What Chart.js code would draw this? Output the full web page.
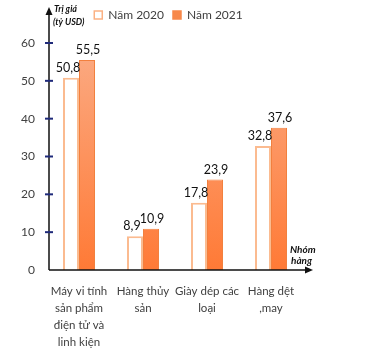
<!DOCTYPE html>
<html>
<head>
<meta charset="utf-8">
<script src="https://cdn.jsdelivr.net/npm/chart.js@4.4.0/dist/chart.umd.min.js"></script>
<style>
  html, body { margin: 0; padding: 0; background: #fff; }
  #wrap { width: 366px; height: 352px; }
</style>
</head>
<body>
<div id="wrap"><canvas id="myChart"></canvas></div>
<script>
const categories = [
  ["Máy vi tính", "sản phẩm", "điện tử và", "linh kiện"],
  ["Hàng thủy", "sản"],
  ["Giày dép các", "loại"],
  ["Hàng dệt", ",may"],
];
const seriesNames = ["Năm 2020", "Năm 2021"];
const values2020 = [50.8, 8.9, 17.8, 32.8];
const values2021 = [55.5, 10.9, 23.9, 37.6];
const yTicks = [0, 10, 20, 30, 40, 50, 60];

const ctx = document.getElementById("myChart");

// extra space under the legend
const legendGap = {
  id: "legendGap",
  beforeInit(chart) {
    const fit = chart.legend.fit;
    chart.legend.fit = function () {
      fit.bind(chart.legend)();
      this.height += 12;
    };
  },
};

// value labels above the bars
const valueLabels = {
  id: "valueLabels",
  afterDatasetsDraw(chart) {
    const c = chart.ctx;
    c.save();
    c.font = "12.5px Lato";
    c.fillStyle = "#111";
    c.textAlign = "center";
    c.textBaseline = "middle";
    chart.data.datasets.forEach((ds, i) => {
      chart.getDatasetMeta(i).data.forEach((bar, j) => {
        const txt = String(ds.data[j]).replace(".", ",");
        c.fillText(txt, bar.x + (i === 0 ? -3 : 1), bar.y - 10);
      });
    });
    c.restore();
  },
};

// axis lines with arrows, tick marks and axis titles
const axisArrows = {
  id: "axisArrows",
  afterDraw(chart) {
    const c = chart.ctx;
    const y = chart.scales.y;
    const area = chart.chartArea;
    const ax = 49;
    const bottom = area.bottom;
    c.save();
    c.strokeStyle = "#111";
    c.fillStyle = "#111";
    c.lineWidth = 1.5;
    c.beginPath();
    c.moveTo(ax, bottom);
    c.lineTo(ax, 12);
    c.moveTo(ax, bottom);
    c.lineTo(308, bottom);
    c.stroke();
    // arrow heads
    c.beginPath();
    c.moveTo(ax, 7);
    c.lineTo(ax - 3.5, 15);
    c.lineTo(ax + 3.5, 15);
    c.closePath();
    c.fill();
    c.beginPath();
    c.moveTo(313, bottom);
    c.lineTo(305, bottom - 3.5);
    c.lineTo(305, bottom + 3.5);
    c.closePath();
    c.fill();
    // tick marks
    c.strokeStyle = "#1f2a7a";
    c.lineWidth = 2;
    yTicks.forEach((v) => {
      if (v === 0) return;
      const py = y.getPixelForValue(v);
      c.beginPath();
      c.moveTo(ax - 4, py);
      c.lineTo(ax + 4, py);
      c.stroke();
    });
    // titles
    c.fillStyle = "#111";
    c.textAlign = "left";
    c.textBaseline = "middle";
    c.font = "italic bold 9px Lato";
    c.fillText("Trị giá", 54, 9);
    c.fillText("(tỷ USD)", 53, 22);
    c.font = "italic bold 10px Lato";
    c.fillText("Nhóm", 290, 250);
    c.fillText("hàng", 291, 261);
    c.restore();
  },
};

const orangeFill = (context) => {
  const { chart } = context;
  const { ctx, chartArea } = chart;
  if (!chartArea) return "#f98a4e";
  const g = ctx.createLinearGradient(0, chartArea.bottom, 0, chartArea.top);
  g.addColorStop(0, "#ff7a36");
  g.addColorStop(1, "#fbab84");
  return g;
};

const barChart = new Chart(ctx, {
  type: "bar",
  data: {
    labels: categories,
    datasets: [
      {
        label: seriesNames[0],
        data: values2020,
        backgroundColor: "#ffffff",
        borderColor: "#fbbb90",
        borderWidth: 2,
      },
      {
        label: seriesNames[1],
        data: values2021,
        backgroundColor: orangeFill,
        borderColor: "#f2803e",
        borderWidth: 1,
      },
    ],
  },
  options: {
    responsive: true,
    maintainAspectRatio: false,
    animation: false,
    devicePixelRatio: 1,
    categoryPercentage: 0.5,
    barPercentage: 1,
    layout: { padding: { left: 0, right: 29, top: 0, bottom: 0 } },
    plugins: {
      legend: {
        position: "top",
        labels: {
          boxWidth: 8,
          boxHeight: 8,
          padding: 9,
          color: "#404040",
          font: { family: "Lato", size: 12 },
          generateLabels: (chart) =>
            seriesNames.map((name, i) => ({
              text: name,
              fillStyle: i === 0 ? "#ffffff" : "#f7884a",
              strokeStyle: i === 0 ? "#fbb183" : "#f7884a",
              lineWidth: 1.5,
              fontColor: "#404040",
              datasetIndex: i,
            })),
        },
      },
      tooltip: { enabled: false },
    },
    scales: {
      x: {
        grid: { display: false },
        border: { display: false },
        ticks: {
          color: "#404040",
          font: { family: "Lato", size: 11.5, lineHeight: 1.48 },
          padding: 5,
          maxRotation: 0,
          autoSkip: false,
        },
        afterFit: (s) => { s.height = 82; },
      },
      y: {
        position: "left",
        min: 0,
        max: 60,
        grid: { display: false, drawTicks: false },
        border: { display: false },
        ticks: {
          color: "#404040",
          font: { family: "Lato", size: 12 },
          padding: 12,
        },
        afterBuildTicks: (s) => { s.ticks = yTicks.map((v) => ({ value: v })); },
        afterFit: (s) => { s.width = 47; },
      },
      y2: {
        position: "right",
        grid: { display: false, drawTicks: false },
        border: { display: false },
        ticks: { display: false },
        afterFit: (s) => { s.width = 34; },
      },
    },
  },
  plugins: [legendGap, valueLabels, axisArrows],
});
</script>
</body>
</html>
